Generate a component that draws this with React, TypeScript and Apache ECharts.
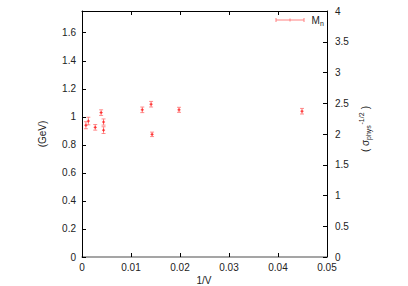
import React, { useEffect, useRef } from "react";
import * as echarts from "echarts";

const xVals = [0.0008, 0.0013, 0.0027, 0.0039, 0.0044, 0.0044, 0.0123, 0.0141, 0.0143, 0.0198, 0.0449];
const yVals = [0.94, 0.97, 0.925, 1.03, 0.963, 0.905, 1.05, 1.09, 0.875, 1.05, 1.04];
const yErrs = [0.025, 0.027, 0.02, 0.02, 0.022, 0.024, 0.02, 0.02, 0.016, 0.018, 0.02];
const xTicks = { min: 0, max: 0.05, interval: 0.01 };
const leftTicks = { min: 0, max: 1.755, interval: 0.2 };
const rightTicks = { min: 0, max: 4, interval: 0.5 };

const FONT = "Liberation Sans, Arial, Helvetica, sans-serif";
const TXT = "#222";

export default function App() {
  const ref = useRef<HTMLDivElement>(null);
  useEffect(() => {
    if (!ref.current) return;
    const chart = echarts.init(ref.current, null, { renderer: "svg" });
    const data = xVals.map((x, i) => [x, yVals[i], yErrs[i]]);
    const tickStyle = { show: true, inside: true, length: 4, lineStyle: { color: "#000", width: 1 } };
    const option: any = {
      animation: false,
      backgroundColor: "#fff",
      grid: { left: 82, right: 81, top: 11, bottom: 29 },
      xAxis: [
        {
          type: "value",
          position: "bottom",
          min: xTicks.min,
          max: xTicks.max,
          interval: xTicks.interval,
          axisLine: { show: true, onZero: false, lineStyle: { color: "#888", width: 1.5 } },
          axisTick: tickStyle,
          splitLine: { show: false },
          axisLabel: { fontSize: 10, fontFamily: FONT, color: TXT, margin: 5 },
        },
        {
          type: "value",
          position: "top",
          min: xTicks.min,
          max: xTicks.max,
          interval: xTicks.interval,
          axisLine: { show: true, onZero: false, lineStyle: { color: "#000", width: 1 } },
          axisTick: tickStyle,
          splitLine: { show: false },
          axisLabel: { show: false },
        },
      ],
      yAxis: [
        {
          type: "value",
          position: "left",
          min: leftTicks.min,
          max: leftTicks.max,
          interval: leftTicks.interval,
          axisLine: { show: true, onZero: false, lineStyle: { color: "#000", width: 1 } },
          axisTick: tickStyle,
          splitLine: { show: false },
          axisLabel: { fontSize: 10, fontFamily: FONT, color: TXT, margin: 6, showMaxLabel: false },
        },
        {
          type: "value",
          position: "right",
          min: rightTicks.min,
          max: rightTicks.max,
          interval: rightTicks.interval,
          axisLine: { show: true, onZero: false, lineStyle: { color: "#000", width: 1 } },
          axisTick: tickStyle,
          splitLine: { show: false },
          axisLabel: { fontSize: 10, fontFamily: FONT, color: TXT, margin: 8 },
        },
      ],
      series: [
        {
          type: "custom",
          xAxisIndex: 0,
          yAxisIndex: 0,
          encode: { x: 0, y: 1 },
          data,
          renderItem: (params: any, api: any) => {
            const x = api.value(0);
            const y = api.value(1);
            const e = api.value(2);
            const c = api.coord([x, y]);
            const t = api.coord([x, y + e]);
            const b = api.coord([x, y - e]);
            const bar = { stroke: "rgba(255,70,70,0.6)", lineWidth: 1 };
            const ctr = { stroke: "#ff2a2a", lineWidth: 1 };
            return {
              type: "group",
              children: [
                { type: "line", shape: { x1: c[0], y1: t[1], x2: c[0], y2: b[1] }, style: bar },
                { type: "line", shape: { x1: c[0] - 2, y1: t[1], x2: c[0] + 2, y2: t[1] }, style: bar },
                { type: "line", shape: { x1: c[0] - 2, y1: b[1], x2: c[0] + 2, y2: b[1] }, style: bar },
                { type: "line", shape: { x1: c[0] - 1.5, y1: c[1], x2: c[0] + 1.5, y2: c[1] }, style: ctr },
                { type: "line", shape: { x1: c[0], y1: c[1] - 1.5, x2: c[0], y2: c[1] + 1.5 }, style: ctr },
              ],
            };
          },
        },
      ],
      graphic: [
        // legend
        { type: "line", shape: { x1: 276, y1: 20, x2: 304, y2: 20 }, style: { stroke: "#ff8080", lineWidth: 1 } },
        { type: "line", shape: { x1: 276, y1: 18, x2: 276, y2: 22 }, style: { stroke: "#ff8080", lineWidth: 1 } },
        { type: "line", shape: { x1: 304, y1: 18, x2: 304, y2: 22 }, style: { stroke: "#ff8080", lineWidth: 1 } },
        { type: "line", shape: { x1: 290, y1: 18.5, x2: 290, y2: 21.5 }, style: { stroke: "#ff8080", lineWidth: 1 } },
        { type: "text", x: 311.5, y: 20, style: { text: "M", fontSize: 10, fontFamily: FONT, fill: TXT, verticalAlign: "middle", align: "left" } },
        { type: "text", x: 320, y: 23, style: { text: "n", fontSize: 7, fontFamily: FONT, fill: TXT, verticalAlign: "middle", align: "left" } },
        // axis titles
        { type: "text", x: 42, y: 134, rotation: Math.PI / 2, style: { text: "(GeV)", fontSize: 10, fontFamily: FONT, fill: TXT, align: "center", verticalAlign: "middle" } },
        { type: "text", x: 204, y: 280, style: { text: "1/V", fontSize: 10, fontFamily: FONT, fill: TXT, align: "center", verticalAlign: "middle" } },
        {
          type: "group",
          x: 365,
          y: 128,
          rotation: Math.PI / 2,
          children: [
            { type: "text", x: -24, y: 0, style: { text: "( ", fontSize: 10, fontFamily: FONT, fill: TXT, align: "left", verticalAlign: "middle" } },
            { type: "text", x: -17.9, y: 0, style: { text: "σ", fontSize: 10, fontFamily: FONT, fill: TXT, align: "left", verticalAlign: "middle" } },
            { type: "text", x: -12, y: 3, style: { text: "phys", fontSize: 7, fontFamily: FONT, fill: TXT, align: "left", verticalAlign: "middle" } },
            { type: "text", x: 3.5, y: -4, style: { text: "-1/2", fontSize: 7, fontFamily: FONT, fill: TXT, align: "left", verticalAlign: "middle" } },
            { type: "text", x: 16, y: 0, style: { text: " )", fontSize: 10, fontFamily: FONT, fill: TXT, align: "left", verticalAlign: "middle" } },
          ],
        },
      ],
    };
    chart.setOption(option);
    return () => chart.dispose();
  }, []);
  return (
    <div
      ref={ref}
      style={{ position: "absolute", left: 0, top: 0, width: 408, height: 286, background: "#fff" }}
    />
  );
}
